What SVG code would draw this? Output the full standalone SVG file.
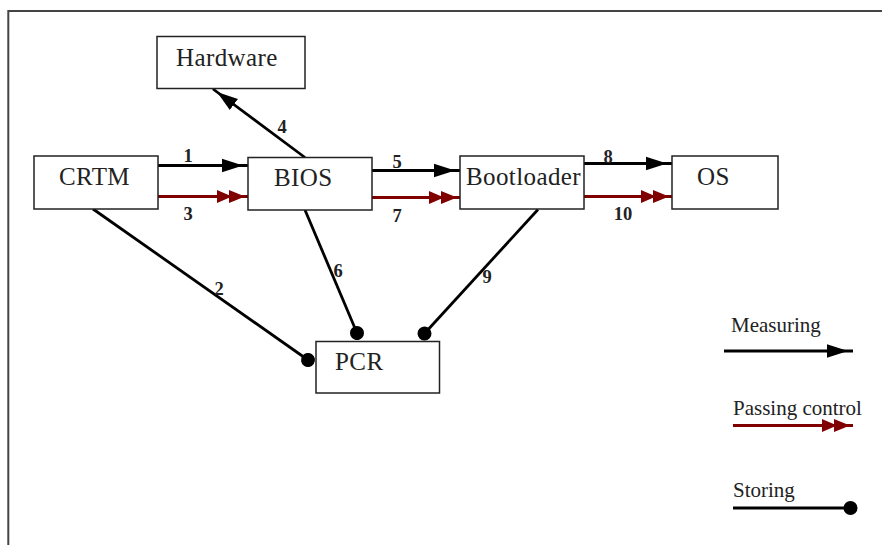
<svg xmlns="http://www.w3.org/2000/svg" width="882" height="545" viewBox="0 0 882 545">
<style>
.box{fill:#fff;stroke:#222;stroke-width:1.5}
.nt{font-family:"Liberation Serif","Times New Roman",serif;font-size:25px;fill:#222;letter-spacing:0.4px}
.el{font-family:"Liberation Serif","Times New Roman",serif;font-size:18.5px;font-weight:bold;fill:#222;text-anchor:middle}
.lt{font-family:"Liberation Serif","Times New Roman",serif;font-size:21px;fill:#222}
.m{stroke:#000;stroke-width:2.8;fill:none}
.p{stroke:#800000;stroke-width:2.8;fill:none}
.s{stroke:#000;stroke-width:2.8;fill:none}
</style>
<defs>
<marker id="arr" markerUnits="userSpaceOnUse" viewBox="0 -8 27 16" refX="26" refY="0" markerWidth="27" markerHeight="16" orient="auto">
<path d="M0,-6.8 L21,0 L0,6.8 Z" fill="#000"/>
<path d="M20,0 L26,0" stroke="#000" stroke-width="1.2"/>
</marker>
<marker id="dbl" markerUnits="userSpaceOnUse" viewBox="0 -8 32 16" refX="31" refY="0" markerWidth="32" markerHeight="16" orient="auto">
<path d="M0,-6.5 L15,0 L0,6.5 Z M12,-6.5 L28,0 L12,6.5 Z" fill="#800000"/>
<path d="M27,0 L31,0" stroke="#800000" stroke-width="1.2"/>
</marker>
<marker id="dot" markerUnits="userSpaceOnUse" viewBox="-8 -8 16 16" refX="0" refY="0" markerWidth="16" markerHeight="16" orient="auto">
<circle cx="0" cy="0" r="7" fill="#000"/>
</marker>
</defs>
<rect x="0" y="0" width="882" height="545" fill="#fff"/>
<rect x="8.3" y="11" width="900" height="600" fill="none" stroke="#444" stroke-width="2"/>

<g id="connectors">
<line class="m" x1="158" y1="165.5" x2="248" y2="165.5" marker-end="url(#arr)"/>
<line class="p" x1="158" y1="196.5" x2="248" y2="196.5" marker-end="url(#dbl)"/>
<line class="m" x1="305" y1="157.5" x2="213" y2="89" marker-end="url(#arr)"/>
<line class="m" x1="372" y1="170.5" x2="460" y2="170.5" marker-end="url(#arr)"/>
<line class="p" x1="372" y1="197.5" x2="460" y2="197.5" marker-end="url(#dbl)"/>
<line class="m" x1="584" y1="163.5" x2="672" y2="163.5" marker-end="url(#arr)"/>
<line class="p" x1="584" y1="196.5" x2="672" y2="196.5" marker-end="url(#dbl)"/>
<line class="s" x1="93" y1="209" x2="308" y2="360" marker-end="url(#dot)"/>
<line class="s" x1="305" y1="210" x2="357" y2="333" marker-end="url(#dot)"/>
<line class="s" x1="538" y1="209.5" x2="424.5" y2="333.5" marker-end="url(#dot)"/>
<text class="el" x="188" y="162">1</text>
<text class="el" x="219" y="295">2</text>
<text class="el" x="188" y="220">3</text>
<text class="el" x="282" y="133">4</text>
<text class="el" x="397" y="168">5</text>
<text class="el" x="338" y="277">6</text>
<text class="el" x="397" y="221.5">7</text>
<text class="el" x="608" y="162.5">8</text>
<text class="el" x="487" y="283" font-weight="normal">9</text>
<text class="el" x="623" y="220">10</text>
</g>

<g id="hardware">
<rect class="box" x="157" y="36.5" width="148" height="52"/>
<text class="nt" x="176" y="65.5">Hardware</text>
</g>
<g id="crtm">
<rect class="box" x="34" y="156" width="124" height="53"/>
<text class="nt" x="59" y="185">CRTM</text>
</g>
<g id="bios">
<rect class="box" x="248" y="157.5" width="124" height="52.5"/>
<text class="nt" x="274" y="185.5">BIOS</text>
</g>
<g id="bootloader">
<rect class="box" x="460" y="156" width="124" height="53"/>
<text class="nt" x="466" y="185">Bootloader</text>
</g>
<g id="os">
<rect class="box" x="672" y="156" width="106" height="53"/>
<text class="nt" x="697" y="185">OS</text>
</g>
<g id="pcr">
<rect class="box" x="316" y="341.5" width="123.5" height="51.5"/>
<text class="nt" x="335" y="370">PCR</text>
</g>

<g id="legend">
<text class="lt" x="731" y="332">Measuring</text>
<line class="m" x1="724" y1="351" x2="853" y2="351" marker-end="url(#arr)"/>
<text class="lt" x="733" y="415">Passing control</text>
<line class="p" x1="733" y1="425.5" x2="853" y2="425.5" marker-end="url(#dbl)"/>
<text class="lt" x="733" y="497">Storing</text>
<line class="s" x1="733" y1="508" x2="850.5" y2="508" marker-end="url(#dot)"/>
</g>
</svg>
